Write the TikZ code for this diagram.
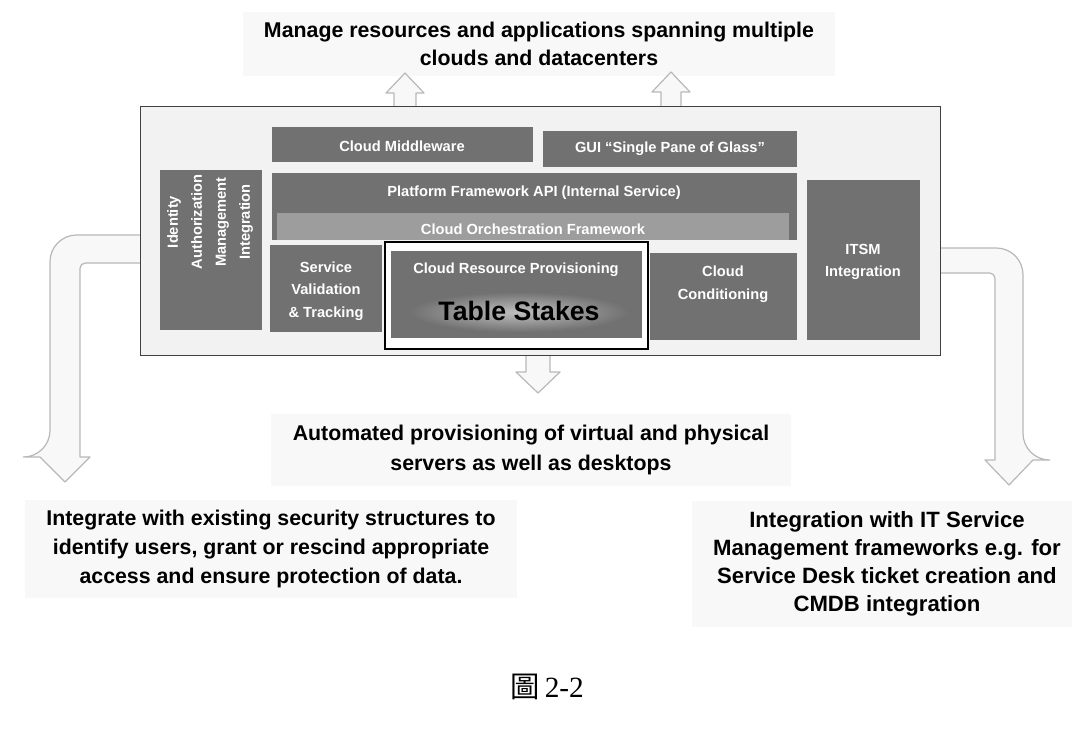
\documentclass[tikz,border=0pt]{standalone}
\usepackage{fontspec}
\setmainfont{Liberation Sans}
\newfontfamily\capserif{Liberation Serif}
\newfontfamily\cjk{Noto Sans CJK TC}
\usetikzlibrary{fit}
\definecolor{boxgray}{HTML}{717171}
\definecolor{bandgray}{HTML}{9D9D9D}
\definecolor{framefill}{HTML}{F2F2F2}
\definecolor{arrowline}{HTML}{B8B8B8}
\definecolor{arrowfill}{HTML}{F8F8F8}
\definecolor{textbg}{HTML}{F8F8F8}
\begin{document}
\begin{tikzpicture}[x=0.75pt,y=-0.75pt,
  darkbox/.style={fill=boxgray,draw=none,inner sep=0pt},
  boxlabel/.style={inner sep=0pt,text=white,font=\bfseries\fontsize{11}{17}\selectfont,align=center},
  outtext/.style={fill=textbg,inner xsep=16pt,inner ysep=8pt,align=center,
    font=\bfseries\fontsize{16}{21.5}\selectfont},
  hollow/.style={fill=arrowfill,draw=arrowline,line width=0.9pt,line join=round}]
\useasboundingbox (0,0) rectangle (1072,735);

% outer texts
\node[outtext,font=\bfseries\fontsize{16}{20.5}\selectfont] (title) at (539,44)
  {Manage resources and applications spanning multiple\\clouds and datacenters};
\node[outtext,font=\bfseries\fontsize{16}{22.5}\selectfont] (auto) at (531,450)
  {Automated provisioning of virtual and physical\\servers as well as desktops};
\node[outtext] (sec) at (271,549)
  {Integrate with existing security structures to\\identify users, grant or rescind appropriate\\access and ensure protection of data.};
\node[outtext,font=\bfseries\fontsize{16.6}{21}\selectfont] (itsmtext) at (887,564)
  {Integration with IT Service\\Management frameworks e.g. for\\Service Desk ticket creation and\\CMDB integration};
\node[inner sep=0pt,font=\fontsize{22}{26}\selectfont] (cap) at (547,687)
  {{\cjk 圖}\hspace{4pt}{\capserif 2-2}};

% hollow block arrows
\draw[hollow] (150,235) [rounded corners=20pt] -- (50,235) -- (50,457) [sharp corners] -- (40,457)
  -- (65,482) -- (90,457) -- (80,457) [rounded corners=4pt] -- (80,263) -- (150,263) [sharp corners] -- cycle;
\draw[hollow] (925,248) [rounded corners=20pt] -- (1023,248) -- (1023,460) [sharp corners] -- (1033,460)
  -- (1009,485) -- (985,460) -- (995,460) [rounded corners=4pt] -- (995,273) -- (925,273) [sharp corners] -- cycle;
\draw[hollow] (394,112) -- (394,93) -- (386,93) -- (405,73) -- (424,93) -- (416,93) -- (416,112) -- cycle;
\draw[hollow] (661,114) -- (661,92) -- (652,92) -- (671,72) -- (690,92) -- (681,92) -- (681,114) -- cycle;
\draw[hollow] (526,345) -- (526,372) -- (516,372) -- (538,393) -- (560,372) -- (550,372) -- (550,345) -- cycle;

% frame
\node[fit={(140,106)(940,355)},inner sep=0pt,fill=framefill,draw=black!75,line width=0.7pt] (frame) {};

% boxes
\node[darkbox,fit={(272,127)(533,162)}] (mw) {};
\node[boxlabel] (mwt) at (402,146) {Cloud Middleware};
\node[darkbox,fit={(543,131)(797,167)}] (gui) {};
\node[boxlabel] (guit) at (670,149) {GUI “Single Pane of Glass”};
\node[darkbox,fit={(160,170)(262,330)}] (idm) {};
\node[boxlabel,rotate=90,font=\bfseries\fontsize{11}{18}\selectfont] (idmt) at (210,222)
  {Identity\\Authorization\\Management\\Integration};
\node[darkbox,fit={(272,173)(797,240)}] (api) {};
\node[boxlabel] (apit) at (534,193) {Platform Framework API (Internal Service)};
\node[darkbox,fill=bandgray,fit={(277,213)(789,240)}] (orch) {};
\node[boxlabel] (orcht) at (533,229) {Cloud Orchestration Framework};
\node[darkbox,fit={(807,180)(920,340)}] (itsm) {};
\node[boxlabel] (itsmt) at (863,262) {ITSM\\Integration};
\node[darkbox,fit={(270,245)(382,332)}] (svt) {};
\node[boxlabel] (svtt) at (326,291) {Service\\Validation\\\& Tracking};
\node[darkbox,fit={(650,253)(797,340)}] (cc) {};
\node[boxlabel] (cct) at (723,284) {Cloud\\Conditioning};

% table stakes
\node[fit={(385,242)(648,349)},inner sep=0pt,fill=white,draw=black,line width=1.9pt] (ts) {};
\node[darkbox,fit={(391,251)(642,338)}] (crp) {};
\shade[inner color=black!25,outer color=boxgray] (410,292) rectangle (628,332);
\node[boxlabel] (crpt) at (516,270) {Cloud Resource Provisioning};
\node[inner sep=0pt,font=\bfseries\fontsize{20}{24}\selectfont] (tst) at (519,311) {Table Stakes};
\end{tikzpicture}
\end{document}
